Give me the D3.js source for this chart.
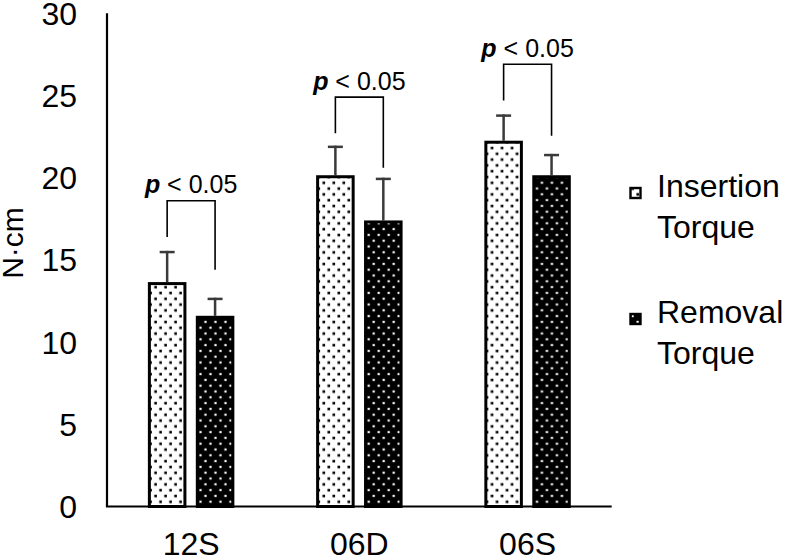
<!DOCTYPE html>
<html>
<head>
<meta charset="utf-8">
<script src="https://cdn.jsdelivr.net/npm/d3@7"></script>
<style>
  html, body { margin: 0; padding: 0; background: #fff; }
  svg { display: block; font-family: "Liberation Sans", Arial, sans-serif; }
</style>
</head>
<body>
<svg id="chart" width="787" height="559"></svg>
<script>
// ---- data ----
const categories = ["12S", "06D", "06S"];
const seriesNames = ["Insertion Torque", "Removal Torque"];
const insertionMean = [13.65, 20.15, 22.25];
const insertionSD = [1.9, 1.8, 1.6];
const removalMean = [11.6, 17.4, 20.15];
const removalSD = [1.1, 2.6, 1.3];
const bracketTop = [18.6, 24.9, 26.9];
const bracketLeftEnd = [16.4, 22.7, 24.7];
const bracketRightEnd = [14.4, 20.6, 22.55];
const sigLabels = ["p", "p", "p"];
const yTicks = [0, 5, 10, 15, 20, 25, 30];
const yLabel = "N·cm";

const svg = d3.select("#chart");
const margin = { left: 107, right: 787 - 611.7, top: 13.3, bottom: 559 - 506.5 };
const W = 787, H = 559;

const x0 = d3.scaleBand().domain(categories)
  .range([margin.left, W - margin.right]).paddingInner(0.486).paddingOuter(0.243);
const x1 = d3.scaleBand().domain(seriesNames)
  .range([0, x0.bandwidth()]).paddingInner(0.196).paddingOuter(0);
const y = d3.scaleLinear().domain([0, 30]).range([H - margin.bottom, margin.top]);

// patterns
const defs = svg.append("defs");
const p1 = defs.append("pattern").attr("id", "dotsLight").attr("patternUnits", "userSpaceOnUse")
  .attr("width", 10).attr("height", 11.6);
p1.append("rect").attr("width", 10).attr("height", 11.6).attr("fill", "#fff");
p1.append("rect").attr("x", 1.4).attr("y", 1.7).attr("width", 2.6).attr("height", 2.6).attr("fill", "#000");
p1.append("rect").attr("x", 6.4).attr("y", 7.5).attr("width", 2.6).attr("height", 2.6).attr("fill", "#000");
const p2 = defs.append("pattern").attr("id", "dotsDark").attr("patternUnits", "userSpaceOnUse")
  .attr("width", 10).attr("height", 11.6);
p2.append("rect").attr("width", 10).attr("height", 11.6).attr("fill", "#000");
p2.append("rect").attr("x", 1.5).attr("y", 1.8).attr("width", 2.2).attr("height", 2.2).attr("fill", "#fff");
p2.append("rect").attr("x", 6.5).attr("y", 7.6).attr("width", 2.2).attr("height", 2.2).attr("fill", "#fff");

const fills = ["url(#dotsLight)", "url(#dotsDark)"];

const rows = categories.map((c, i) => ({
  cat: c,
  vals: [
    { s: seriesNames[0], v: insertionMean[i], sd: insertionSD[i] },
    { s: seriesNames[1], v: removalMean[i], sd: removalSD[i] }
  ]
}));

const sw = 3;
const groups = svg.append("g").selectAll("g").data(rows).join("g")
  .attr("transform", d => `translate(${x0(d.cat)},0)`);

// error bars (behind bars)
groups.selectAll("g.err").data(d => d.vals).join("g").attr("class", "err").each(function(d, j) {
  const g = d3.select(this);
  const cx = x1(d.s) + x1.bandwidth() / 2;
  g.append("line").attr("x1", cx).attr("x2", cx).attr("y1", y(d.v)).attr("y2", y(d.v + d.sd))
    .attr("stroke", "#3a3a3a").attr("stroke-width", 2.5);
  g.append("line").attr("x1", cx - 7.5).attr("x2", cx + 7.5).attr("y1", y(d.v + d.sd) + 1.2).attr("y2", y(d.v + d.sd) + 1.2)
    .attr("stroke", "#3a3a3a").attr("stroke-width", 2.5);
});

groups.selectAll("rect.bar").data(d => d.vals).join("rect").attr("class", "bar")
  .attr("x", d => x1(d.s) + sw / 2)
  .attr("width", x1.bandwidth() - sw)
  .attr("y", d => y(d.v) + sw / 2)
  .attr("height", d => y(0) - y(d.v) - sw / 2)
  .attr("fill", (d, j) => fills[j])
  .attr("stroke", "#000").attr("stroke-width", sw);

// axes
svg.append("line").attr("x1", margin.left).attr("x2", margin.left)
  .attr("y1", y(30)).attr("y2", y(0)).attr("stroke", "#000").attr("stroke-width", 2.2);
svg.append("line").attr("x1", margin.left - 1.1).attr("x2", W - margin.right)
  .attr("y1", y(0)).attr("y2", y(0)).attr("stroke", "#000").attr("stroke-width", 2.2);

svg.append("g").selectAll("text").data(yTicks).join("text")
  .attr("x", 77).attr("y", d => y(d)).attr("dy", "0.36em")
  .attr("text-anchor", "end").attr("font-size", 32).attr("fill", "#000").text(d => d);

svg.append("g").selectAll("text").data(categories).join("text")
  .attr("x", d => x0(d) + x0.bandwidth() / 2).attr("y", 554.5)
  .attr("text-anchor", "middle").attr("font-size", 32).attr("fill", "#000").text(d => d);

svg.append("text").attr("transform", `translate(23,243) rotate(-90)`)
  .attr("text-anchor", "middle").attr("font-size", 30).attr("fill", "#000").text(yLabel);

// significance brackets
categories.forEach((c, i) => {
  const lx = x0(c) + x1(seriesNames[0]) + x1.bandwidth() / 2;
  const rx = x0(c) + x1(seriesNames[1]) + x1.bandwidth() / 2;
  svg.append("path")
    .attr("d", `M${lx},${y(bracketLeftEnd[i])}V${y(bracketTop[i])}H${rx}V${y(bracketRightEnd[i])}`)
    .attr("fill", "none").attr("stroke", "#000").attr("stroke-width", 1.6);
  const t = svg.append("text").attr("x", (lx + rx) / 2).attr("y", y(bracketTop[i]) - 7.5)
    .attr("text-anchor", "middle").attr("font-size", 25).attr("fill", "#000");
  t.append("tspan").attr("font-style", "italic").attr("font-weight", "bold").text(sigLabels[i]);
  t.append("tspan").text(" < 0.05");
});

// legend
const legend = [
  { name: seriesNames[0], lines: ["Insertion", "Torque"], y: 197, fill: fills[0] },
  { name: seriesNames[1], lines: ["Removal", "Torque"], y: 323, fill: fills[1] }
];
legend.forEach(l => {
  svg.append("rect").attr("x", 630.5).attr("y", l.y - 9).attr("width", 10).attr("height", 10)
    .attr("fill", l.fill).attr("stroke", "#000").attr("stroke-width", 2.4);
  l.lines.forEach((s, k) => {
    svg.append("text").attr("x", 657).attr("y", l.y + k * 40.5).attr("font-size", 32)
      .attr("fill", "#000").text(s);
  });
});
</script>
</body>
</html>
